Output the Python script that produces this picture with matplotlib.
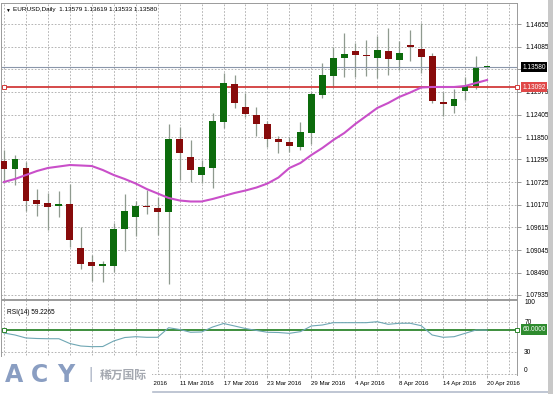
import numpy as np
import matplotlib.pyplot as plt
from matplotlib.transforms import blended_transform_factory

plt.rcParams['font.family'] = ['Liberation Sans', 'DejaVu Sans']

# EURUSD, Daily (18 Feb - 20 Apr 2016)
dates = ['18 Feb 2016', '19 Feb 2016', '22 Feb 2016', '23 Feb 2016', '24 Feb 2016',
         '25 Feb 2016', '26 Feb 2016', '29 Feb 2016', '1 Mar 2016', '2 Mar 2016',
         '3 Mar 2016', '4 Mar 2016', '7 Mar 2016', '8 Mar 2016', '9 Mar 2016',
         '10 Mar 2016', '11 Mar 2016', '14 Mar 2016', '15 Mar 2016', '16 Mar 2016',
         '17 Mar 2016', '18 Mar 2016', '21 Mar 2016', '22 Mar 2016', '23 Mar 2016',
         '24 Mar 2016', '25 Mar 2016', '28 Mar 2016', '29 Mar 2016', '30 Mar 2016',
         '31 Mar 2016', '1 Apr 2016', '4 Apr 2016', '5 Apr 2016', '6 Apr 2016',
         '7 Apr 2016', '8 Apr 2016', '11 Apr 2016', '12 Apr 2016', '13 Apr 2016',
         '14 Apr 2016', '15 Apr 2016', '18 Apr 2016', '19 Apr 2016', '20 Apr 2016']

opens = [1.11265, 1.11052, 1.11091, 1.10290, 1.10208, 1.10134, 1.10191, 1.09107, 1.08745, 1.08663,
         1.08661, 1.09571, 1.09876, 1.10149, 1.10099, 1.09985, 1.11796, 1.11364, 1.10909, 1.11076,
         1.12217, 1.13167, 1.12604, 1.12398, 1.12168, 1.11796, 1.11736, 1.11612, 1.11959, 1.12894,
         1.13373, 1.13804, 1.13993, 1.13874, 1.13819, 1.13985, 1.13762, 1.14134, 1.14035, 1.13861,
         1.12728, 1.12629, 1.12993, 1.13117, 1.13579]
highs = [1.11530, 1.11406, 1.11240, 1.10556, 1.10471, 1.10513, 1.10687, 1.09613, 1.08926, 1.08785,
         1.09727, 1.10439, 1.10273, 1.10538, 1.10372, 1.12175, 1.12108, 1.11778, 1.11282, 1.12455,
         1.13432, 1.13390, 1.12936, 1.12604, 1.12257, 1.11885, 1.11860, 1.12217, 1.12976, 1.13680,
         1.14092, 1.14424, 1.14176, 1.14258, 1.14357, 1.14548, 1.14233, 1.14506, 1.14672, 1.13928,
         1.12961, 1.13043, 1.13333, 1.13869, 1.13619]
lows = [1.10712, 1.10662, 1.10025, 1.09893, 1.09546, 1.09861, 1.09117, 1.08572, 1.08289, 1.08264,
        1.08512, 1.09033, 1.09397, 1.09943, 1.09422, 1.08207, 1.10786, 1.10744, 1.10719, 1.10580,
        1.12068, 1.12579, 1.12341, 1.11877, 1.11617, 1.11448, 1.11488, 1.11530, 1.11672, 1.12827,
        1.13100, 1.13348, 1.13348, 1.13373, 1.13316, 1.13390, 1.13514, 1.13737, 1.13432, 1.12701,
        1.12381, 1.12440, 1.12770, 1.13043, 1.13533]
closes = [1.11059, 1.11300, 1.10273, 1.10191, 1.10124, 1.10191, 1.09298, 1.08703, 1.08661, 1.08678,
          1.09564, 1.10017, 1.10141, 1.10109, 1.09985, 1.11796, 1.11463, 1.11034, 1.11101, 1.12249,
          1.13199, 1.12688, 1.12416, 1.12168, 1.11815, 1.11736, 1.11637, 1.11969, 1.12919, 1.13390,
          1.13819, 1.13904, 1.13886, 1.13854, 1.14018, 1.13787, 1.13943, 1.14097, 1.13844, 1.12750,
          1.12664, 1.12795, 1.13125, 1.13571, 1.13580]

# пълзяща средна (магента)
ma = [1.10737, 1.10811, 1.10910, 1.11009, 1.11084, 1.11121, 1.11158, 1.11146, 1.11133, 1.11034,
      1.10910, 1.10811, 1.10699, 1.10563, 1.10451, 1.10340, 1.10278, 1.10253, 1.10253, 1.10315,
      1.10389, 1.10464, 1.10526, 1.10600, 1.10699, 1.10848, 1.11084, 1.11208, 1.11406, 1.11580,
      1.11778, 1.11952, 1.12175, 1.12373, 1.12572, 1.12696, 1.12845, 1.12956, 1.13080, 1.13093,
      1.13093, 1.13093, 1.13117, 1.13192, 1.13266]

# RSI(14)
rsi = [55.3, 52.7, 48.7, 48.0, 47.7, 47.7, 41.3, 38.0, 37.1, 37.3, 44.7, 49.3, 50.4, 49.6, 49.6,
       62.4, 60.0, 56.3, 56.7, 63.3, 68.0, 64.7, 61.3, 58.7, 56.3, 56.0, 54.9, 57.1, 64.7, 66.0,
       69.1, 69.1, 69.1, 69.1, 70.4, 66.9, 68.3, 68.3, 65.1, 52.7, 49.6, 50.4, 54.9, 59.3, 59.2]

price_ticks = [1.14655, 1.14085, 1.13530, 1.12975, 1.12405, 1.11850, 1.11295,
               1.10725, 1.10170, 1.09615, 1.09045, 1.08490, 1.07935]
price_labels = ['1.14655', '1.14085', '', '1.12975', '1.12405', '1.11850', '1.11295',
                '1.10725', '1.10170', '1.09615', '1.09045', '1.08490', '1.07935']
bid = 1.13580
red_level = 1.13092
rsi_level = 60.0
rsi_ticks = [100, 70, 30, 0]
label_idx = list(range(12, len(dates), 4))  # левите етикети са под логото

W, H = 553, 394
FS = 4.7
fig = plt.figure(figsize=(W / 100, H / 100), dpi=100)
fig.patch.set_facecolor('white')

def px(l, t, r, b):
    return [l / W, 1 - b / H, (r - l) / W, (b - t) / H]

ax = fig.add_axes(px(1, 3, 517, 299))
ax2 = fig.add_axes(px(1, 299.5, 517, 374.5), sharex=ax)

n = len(opens)
x = np.arange(n)
ax.set_xlim(-0.27, 46.73)
ax.set_ylim(1.07835, 1.15176)
ax2.set_ylim(0, 100)

grid_kw = dict(color='#a8a8a8', lw=0.6, ls=(0, (2, 2)), zorder=0)
for i in range(0, 47, 2):
    ax.axvline(i, **grid_kw)
    ax2.axvline(i, **grid_kw)
for p in price_ticks:
    ax.axhline(p, **grid_kw)
for v in (30, 70):
    ax2.axhline(v, **grid_kw)
ax2.axhline(0.5, **grid_kw)

# свещи
o = np.array(opens); c = np.array(closes)
hi = np.array(highs); lo = np.array(lows)
up = c >= o
colors = np.where(up, '#0c6b0c', '#870b0b')
ax.vlines(x, lo, hi, color='#8f9a8f', lw=0.9, zorder=2)
body = np.maximum(np.abs(c - o), 0.00028)
ax.bar(x, body, bottom=np.minimum(o, c), width=0.62, color=colors, zorder=3)

ax.plot(x, ma, color='#c94fc9', lw=1.5, zorder=4)

# хоризонтални линии
ax.axhline(bid, color='#8a96aa', lw=0.8, zorder=2)
ax.axhline(red_level, color='#d23a3a', lw=1.3, zorder=2)
ax.plot([0.0], [red_level], marker='s', ms=2.5, mfc='white', mec='#d23a3a', mew=0.7,
        clip_on=False, zorder=5)

ax2.plot(x, rsi, color='#6fa7b4', lw=0.8, zorder=3)
ax2.axhline(rsi_level, color='#2e862e', lw=1.3, zorder=2)
ax2.plot([0.0], [rsi_level], marker='s', ms=2.5, mfc='white', mec='#2e862e', mew=0.7,
         clip_on=False, zorder=5)

for a in (ax, ax2):
    for s in a.spines.values():
        s.set_color('#9a9a9a')
        s.set_linewidth(0.7)
    a.set_facecolor('white')
ax2.spines['bottom'].set_visible(False)

# ценова скала вдясно
ax.yaxis.tick_right()
ax.set_yticks(price_ticks)
ax.set_yticklabels(price_labels)
ax.tick_params(axis='y', length=3, width=0.5, color='#707070', labelsize=FS, pad=3)
ax.tick_params(axis='x', bottom=False, labelbottom=False)

ax2.yaxis.tick_right()
ax2.set_yticks([])
tr2 = blended_transform_factory(ax2.transAxes, ax2.transData)
for v in rsi_ticks:
    va = 'top' if v == 100 else ('bottom' if v == 0 else 'center')
    ax2.text(1.014, v, str(v), transform=tr2, fontsize=FS, va=va, ha='left', clip_on=False)

ax2.set_xticks(label_idx)
ax2.set_xticklabels([dates[i] for i in label_idx], fontsize=4.4)
for lab in ax2.get_xticklabels():
    lab.set_ha('left')
ax2.tick_params(axis='x', length=2, width=0.5, color='#909090', pad=3)

# етикети на нивата
tr = blended_transform_factory(ax.transAxes, ax.transData)
box = dict(boxstyle='square,pad=0.25', ec='none')
ax.text(1.01, bid, '1.13580', transform=tr, fontsize=FS, color='white', va='center',
        ha='left', bbox=dict(box, fc='black'), zorder=6)
ax.text(1.01, red_level, '1.13092', transform=tr, fontsize=FS, color='white', va='center',
        ha='left', bbox=dict(box, fc='#e04848'), zorder=6)
ax.plot([1.0], [red_level], transform=tr, marker='s', ms=2.5, mfc='white', mec='#d23a3a',
        mew=0.7, clip_on=False, zorder=7)
ax2.text(1.01, rsi_level, '60.0000', transform=tr2, fontsize=FS, color='white', va='center',
         ha='left', bbox=dict(box, fc='#2e8b2e'), zorder=6)
ax2.plot([1.0], [rsi_level], transform=tr2, marker='s', ms=2.5, mfc='white', mec='#2e862e',
         mew=0.7, clip_on=False, zorder=7)

ax.text(0.008, 0.983, '\u25bc', transform=ax.transAxes, fontsize=3.5, va='top', ha='left')
ax.text(0.024, 0.985, 'EURUSD,Daily  1.13579 1.13619 1.13533 1.13580', transform=ax.transAxes,
        fontsize=4.6, va='top', ha='left')
ax2.text(0.012, 0.88, 'RSI(14) 59.2265', transform=ax2.transAxes, fontsize=FS, va='top', ha='left')

# лога долу вляво
fig.patches.append(plt.Rectangle((0, 0), 152 / W, 37 / H, transform=fig.transFigure,
                                 fc='white', ec='none', zorder=10))
fig.patches.append(plt.Rectangle((548 / W, 0), 5 / W, 1, transform=fig.transFigure,
                                 fc='#c8c8c8', ec='none', zorder=10))
fig.lines.append(plt.Line2D([153 / W, 548 / W], [2 / H, 2 / H], transform=fig.transFigure,
                            color='#b4bccc', lw=1.2, zorder=10))
for k, ch in enumerate('ACY'):
    fig.text((5 + 26 * k) / W, 19 / H, ch, fontsize=17, fontweight='bold', color='#8a9ec2',
             va='center', ha='left', family=['DejaVu Sans'], zorder=11)
fig.text(88 / W, 19 / H, '|', fontsize=12, color='#b0b8c8', va='center', ha='left', zorder=11)
fig.text(100 / W, 19 / H, '稀万国际', fontsize=8.5, fontweight='bold', color='#a4a8b0',
         va='center', ha='left', family=['Noto Sans CJK SC'], zorder=11)

fig.savefig('out.png', dpi=100)
